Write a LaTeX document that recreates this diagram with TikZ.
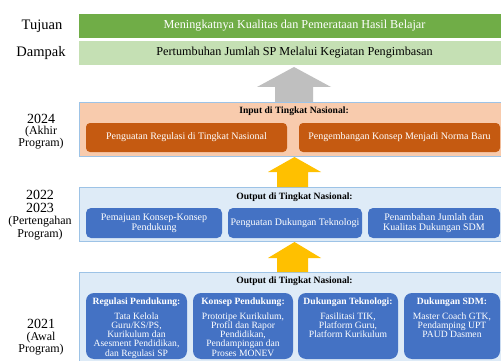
\documentclass[tikz,border=0pt]{standalone}
\usepackage{fontspec}
\setmainfont{Liberation Serif}
\definecolor{gDark}{HTML}{70AD47}
\definecolor{gLight}{HTML}{C5E0B4}
\definecolor{oLight}{HTML}{F8CBAD}
\definecolor{oDark}{HTML}{C55A11}
\definecolor{bLight}{HTML}{DEEBF7}
\definecolor{bBorder}{HTML}{9DC3E6}
\definecolor{bDark}{HTML}{4472C4}
\definecolor{arrGray}{HTML}{BFBFBF}
\definecolor{arrYel}{HTML}{FFC000}
\newcommand{\bigyr}[1]{{\fontsize{14}{11}\selectfont #1}}
\begin{document}
\begin{tikzpicture}[x=1pt,y=-1pt,
  lbl/.style={inner sep=0pt, font=\fontsize{14.5}{16}\selectfont},
  yrgroup/.style={inner sep=0pt, anchor=north, align=center},
  bar/.style={inner sep=0pt, minimum width=431pt, minimum height=24pt, font=\fontsize{12.2}{14}\selectfont},
  outerbox/.style={draw=bBorder, line width=0.9pt, inner sep=0pt, minimum width=431pt},
  ttl/.style={inner sep=0pt, font=\bfseries\fontsize{9.6}{11}\selectfont},
  obox/.style={fill=oDark, rounded corners=4pt, inner sep=0pt, minimum height=29pt, text=white, font=\fontsize{10}{10}\selectfont},
  bbox/.style={fill=bDark, rounded corners=5pt, inner sep=0pt, minimum height=30pt, text=white, align=center, font=\fontsize{10}{10}\selectfont},
  bigbox/.style={fill=bDark, rounded corners=8pt, inner sep=0pt, minimum height=66pt},
  hdr/.style={inner sep=0pt, text=white, font=\bfseries\fontsize{9.6}{10}\selectfont},
  body/.style={inner sep=0pt, text=white, align=center, anchor=north, font=\fontsize{9.6}{9.2}\selectfont}
]
\useasboundingbox (0,0) rectangle (501,361);
\clip (0,0) rectangle (501,361);
\fill[white] (0,0) rectangle (501,361);

% left labels
\node[lbl] (lTuj) at (42,26) {Tujuan};
\node[lbl] (lDam) at (41,53) {Dampak};
\node[yrgroup, font=\fontsize{12}{11.4}\selectfont] (l24) at (41,113.8) {\bigyr{2024}\\(Akhir\\Program)};
\node[yrgroup, font=\fontsize{12}{12.5}\selectfont] (l22) at (40,190) {\bigyr{2022}\\\bigyr{2023}\\(Pertengahan\\Program)};
\node[yrgroup, font=\fontsize{12}{11.8}\selectfont] (l21) at (41,319) {\bigyr{2021}\\(Awal\\Program)};

% top bars
\node[bar, fill=gDark, text=white, minimum height=23.7pt] (tuj) at (294.5,25.9) {Meningkatnya Kualitas dan Pemerataan Hasil Belajar};
\node[bar, fill=gLight, text=black] (dam) at (294.5,53) {Pertumbuhan Jumlah SP Melalui Kegiatan Pengimbasan};

% 2024
\node[outerbox, fill=oLight, minimum height=54pt] (o24) at (294.5,129) {};
\node[ttl] (t24) at (294,111) {Input di Tingkat Nasional:};
\node[obox, minimum width=201pt] (r24a) at (186.5,137.5) {Penguatan Regulasi di Tingkat Nasional};
\node[obox, minimum width=201pt] (r24b) at (399.5,137.5) {Pengembangan Konsep Menjadi Norma Baru};

% 2022-2023
\node[outerbox, fill=bLight, minimum height=54pt] (o22) at (294.5,214) {};
\node[ttl] (t22) at (294.5,197) {Output di Tingkat Nasional:};
\node[bbox, minimum width=136pt] (r22a) at (154,223) {Pemajuan Konsep-Konsep\\Pendukung};
\node[bbox, minimum width=134pt] (r22b) at (295,223) {Penguatan Dukungan Teknologi};
\node[bbox, minimum width=132pt] (r22c) at (434,223) {Penambahan Jumlah dan\\Kualitas Dukungan SDM};

% 2021
\node[outerbox, fill=bLight, minimum height=98pt] (o21) at (294.5,321) {};
\node[ttl] (t21) at (294.5,281) {Output di Tingkat Nasional:};
\node[bigbox, minimum width=101pt] (r21a) at (136.5,326) {};
\node[bigbox, minimum width=100pt] (r21b) at (243,326) {};
\node[bigbox, minimum width=100pt] (r21c) at (348,326) {};
\node[bigbox, minimum width=96pt] (r21d) at (452,326) {};
\node[hdr] (h21a) at (136.5,302.3) {Regulasi Pendukung:};
\node[hdr] (h21b) at (243,302.3) {Konsep Pendukung:};
\node[hdr] (h21c) at (348,302.3) {Dukungan Teknologi:};
\node[hdr] (h21d) at (452,302.3) {Dukungan SDM:};
\node[body] (b21a) at (136.5,312.5) {Tata Kelola\\Guru/KS/PS,\\Kurikulum dan\\Asesment Pendidikan,\\dan Regulasi SP};
\node[body] (b21b) at (243,312.5) {Prototipe Kurikulum,\\Profil dan Rapor\\Pendidikan,\\Pendampingan dan\\Proses MONEV};
\node[body] (b21c) at (348,312.5) {Fasilitasi TIK,\\Platform Guru,\\Platform Kurikulum};
\node[body] (b21d) at (452,312.5) {Master Coach GTK,\\Pendamping UPT\\PAUD Dasmen};

% arrows
\fill[arrGray] (275,102) -- (275,87) -- (257,87) -- (294,67) -- (331,87) -- (313,87) -- (313,102) -- cycle;
\fill[arrYel] (277,187) -- (277,172) -- (268,172) -- (294.5,157) -- (321,172) -- (308,172) -- (308,187) -- cycle;
\fill[arrYel] (277,272) -- (277,258) -- (268,258) -- (294.5,242) -- (321,258) -- (308,258) -- (308,272) -- cycle;
\end{tikzpicture}
\end{document}
